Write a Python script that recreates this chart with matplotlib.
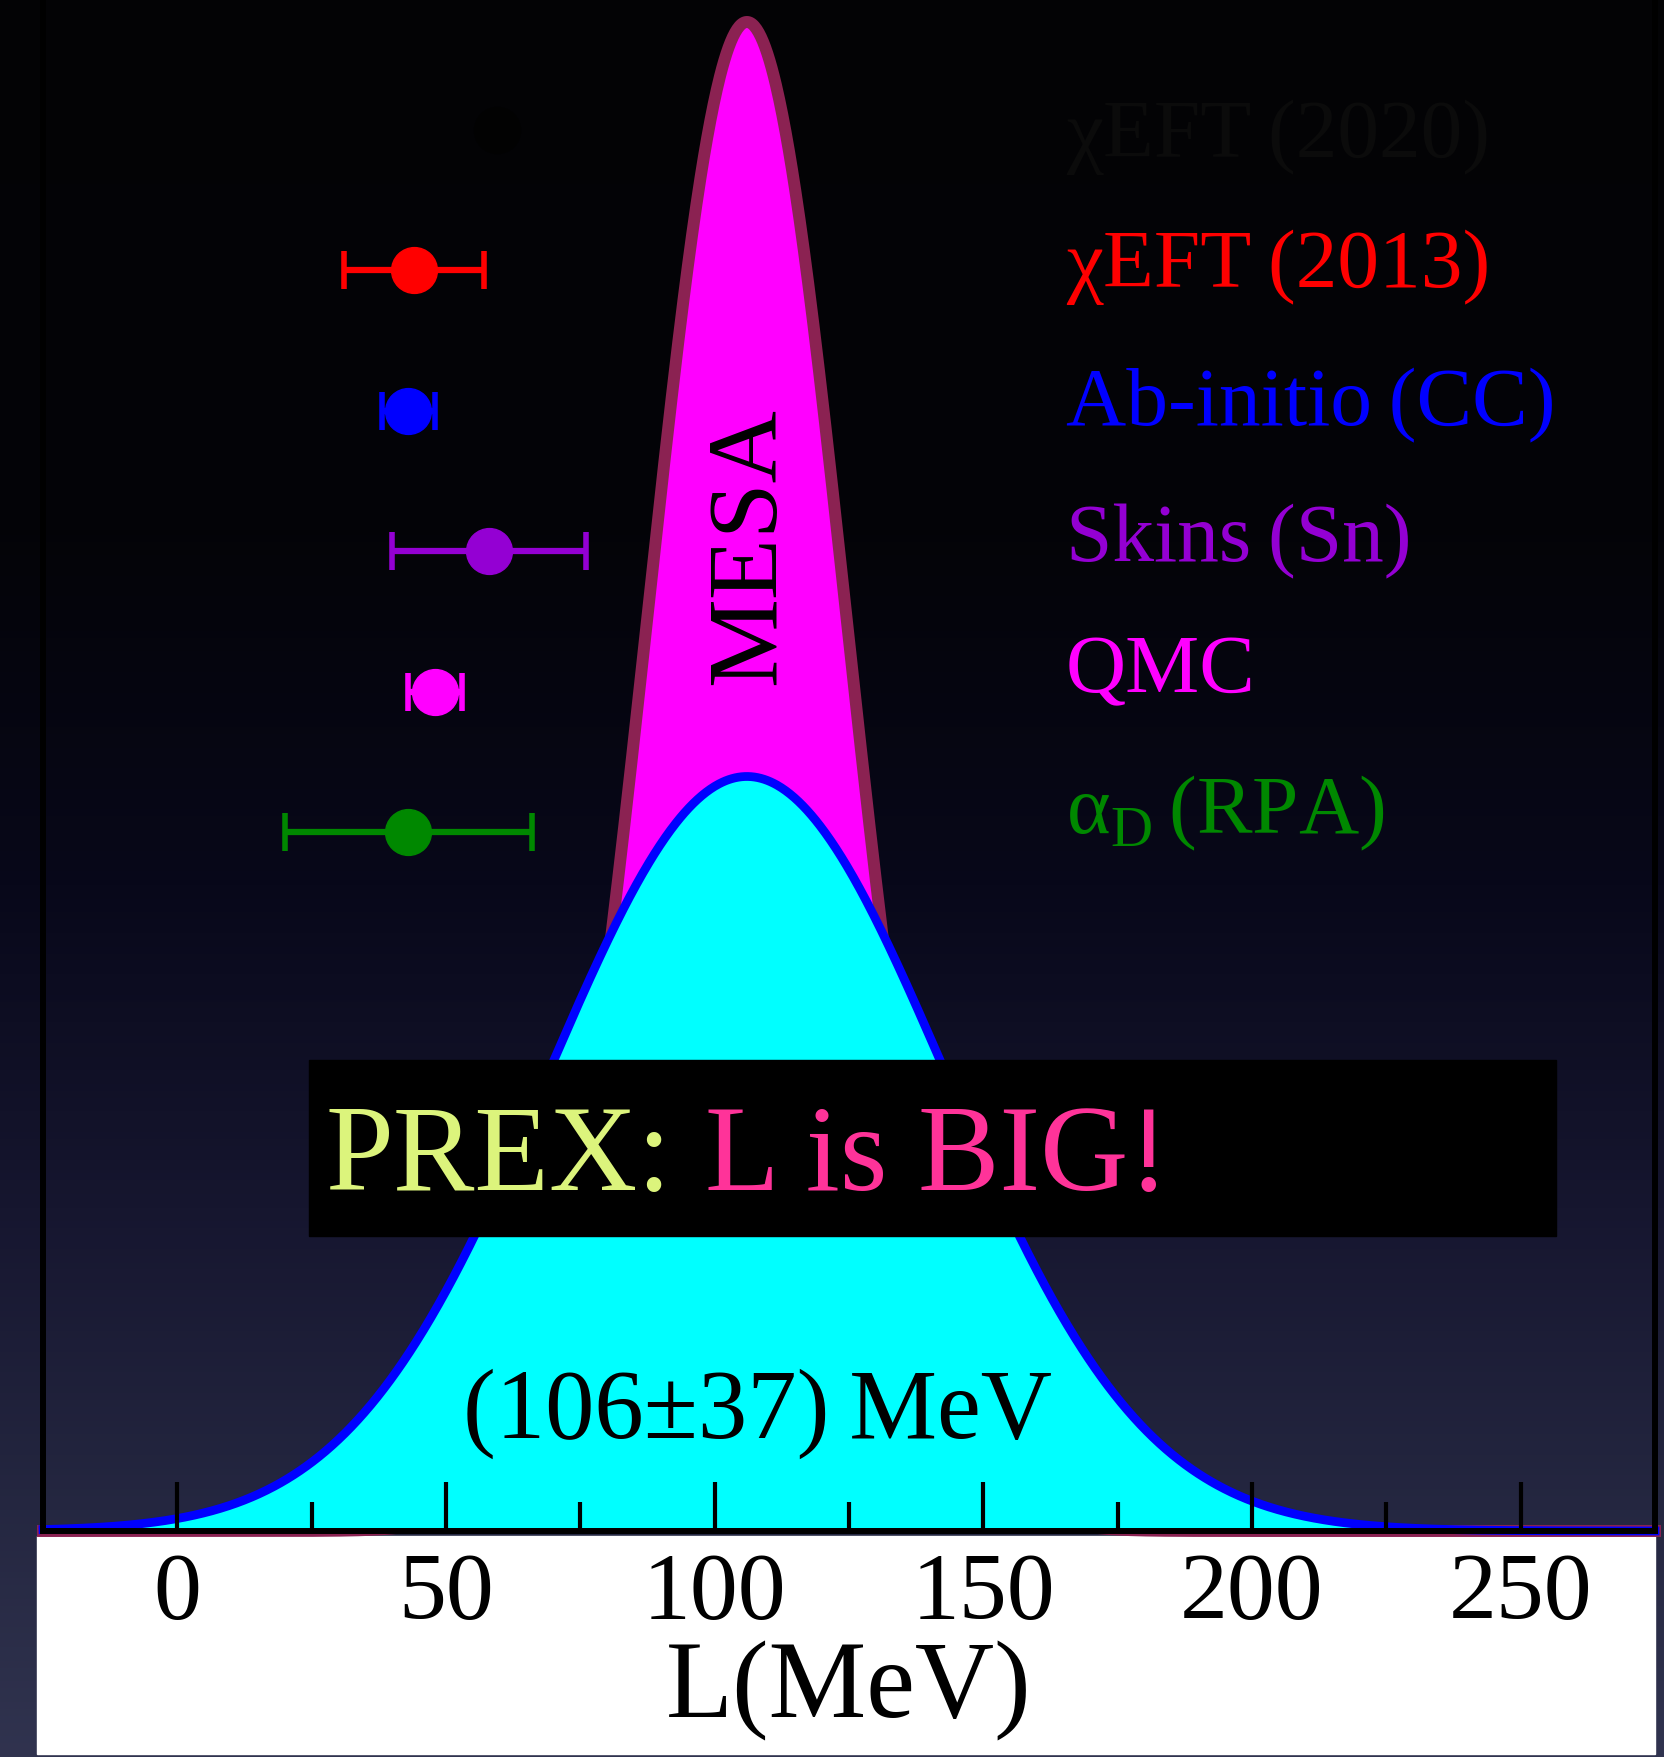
import numpy as np
import matplotlib.pyplot as plt
from matplotlib.patches import Rectangle
from matplotlib.colors import LinearSegmentedColormap

plt.rcParams['font.family'] = ['Liberation Serif', 'DejaVu Serif']
plt.rcParams['mathtext.fontset'] = 'custom'
plt.rcParams['mathtext.rm'] = 'Liberation Serif'

W, H = 1665, 1758  # output size in pixels (dpi 100)

# PREX result and projected MESA precision for the slope L (MeV)
prex_L, prex_dL = 106, 37
mesa_L, mesa_dL = 106, 18.5

# theory predictions shown as points with error bars
models = ['\u03c7EFT\u2009(2013)', 'Ab-initio\u2009(CC)', 'Skins\u2009(Sn)', 'QMC',
          '\u03b1$_\\mathrm{D}\\,$(RPA)']
L_model = [44, 43, 58, 48, 43]
dL_model = [13, 5, 18, 5, 23]
model_colors = ['#ff0000', '#0000ff', '#9400d3', '#ff00ff', '#008800']

# hidden (almost invisible) newer entry at the top
hidden_label = '\u03c7EFT\u2009(2020)'
hidden_L = 59.5

xticks = [0, 50, 100, 150, 200, 250]
xminor = [25, 75, 125, 175, 225]


def gauss(x, mu, sig):
    return np.exp(-0.5 * ((x - mu) / sig) ** 2) / (sig * np.sqrt(2 * np.pi))


def fx(px):
    return px / W


def fy(py):
    return 1 - py / H


fig = plt.figure(figsize=(W / 100, H / 100), dpi=100)

# background: black at the top fading into dark navy
bg = fig.add_axes([0, 0, 1, 1], zorder=-5)
cmap = LinearSegmentedColormap.from_list('bg', [
    (0.0, (0.015, 0.015, 0.02)),
    (0.3, (0.015, 0.015, 0.03)),
    (0.5, (0.03, 0.03, 0.10)),
    (0.7, (0.09, 0.09, 0.19)),
    (0.85, (0.14, 0.15, 0.25)),
    (1.0, (0.19, 0.20, 0.31)),
])
bg.imshow(np.linspace(0, 1, 512)[:, None], aspect='auto', cmap=cmap,
          extent=[0, 1, 0, 1], origin='upper')
bg.add_patch(Rectangle((fx(37), fy(1755)), fx(1655 - 37), (1755 - 1537) / H,
                       color='white', transform=bg.transAxes))
bg.set_xlim(0, 1)
bg.set_ylim(0, 1)
bg.set_axis_off()

ax = fig.add_axes([fx(43), fy(1532), fx(1612), 1532 / H])
ax.set_facecolor('none')

x = np.linspace(-25, 275, 1501)
mesa = gauss(x, mesa_L, mesa_dL)
prex = gauss(x, prex_L, prex_dL)

ax.fill_between(x, mesa, color='#ff00ff', lw=0, zorder=0.5)
ax.plot(x, mesa, color='#8b2252', lw=8.6, zorder=0.6, clip_on=False)
ax.fill_between(x, prex, color='#00ffff', lw=0, zorder=0.7)
ax.plot(x, prex, color='#0000ff', lw=6.3, zorder=0.8, clip_on=False)

ax.set_xlim(-25, 275)
ymax = mesa.max() / 0.985
ax.set_ylim(0, ymax)
ax.set_xticks(xticks)
ax.set_xticks(xminor, minor=True)
ax.set_yticks([])
ax.tick_params(axis='x', which='major', direction='in', length=35, width=3,
               labelsize=69, pad=15, color='black')
ax.tick_params(axis='x', which='minor', direction='in', length=21, width=3,
               color='black')
ax.spines['top'].set_visible(False)
for s in ['left', 'right', 'bottom']:
    ax.spines[s].set_linewidth(4.3)
    ax.spines[s].set_color('black')
ax.set_xlabel('L(MeV)', fontsize=79, labelpad=1)

ax.text(106.6, ymax * (1532 - 546) / 1532, 'MESA', rotation=90, fontsize=72,
        color='black', ha='center', va='center')

# model points on an overlay axis, one row each
ax2 = ax.twinx()
ax2.set_ylim(-3.975, 6.93)
ax2.set_axis_off()
rows = [5, 4, 3, 2, 1]
for L, dL, c, r in zip(L_model, dL_model, model_colors, rows):
    ax2.errorbar(L, r, xerr=dL, fmt='o', color=c, mec=c, ms=33,
                 elinewidth=4.5, capsize=14, capthick=4)
ax2.plot(hidden_L, 6, 'o', color='#020202', ms=33)

label_base = [287, 425, 561, 692, 833]
for lab, c, yb in zip(models, model_colors, label_base):
    fig.text(fx(1066), fy(yb), lab, color=c, fontsize=60, va='baseline')
fig.text(fx(1066), fy(157), hidden_label, color='#0b0b0b', fontsize=60,
         va='baseline')

# PREX banner
fig.patches.append(Rectangle((fx(309), fy(1237)), fx(1556 - 309), (1237 - 1061) / H,
                             color='black', transform=fig.transFigure, figure=fig,
                             zorder=2))
fig.text(fx(326), fy(1190), 'PREX:', color='#dcf47c', fontsize=88,
         va='baseline', zorder=3)
fig.text(fx(705), fy(1190), 'L is BIG!', color='#ff3399', fontsize=88,
         va='baseline', zorder=3)

fig.text(fx(758), fy(1438), '(106\u00b137)\u2009MeV', color='black', fontsize=71,
         ha='center', va='baseline')

fig.savefig('out.png', dpi=100)
